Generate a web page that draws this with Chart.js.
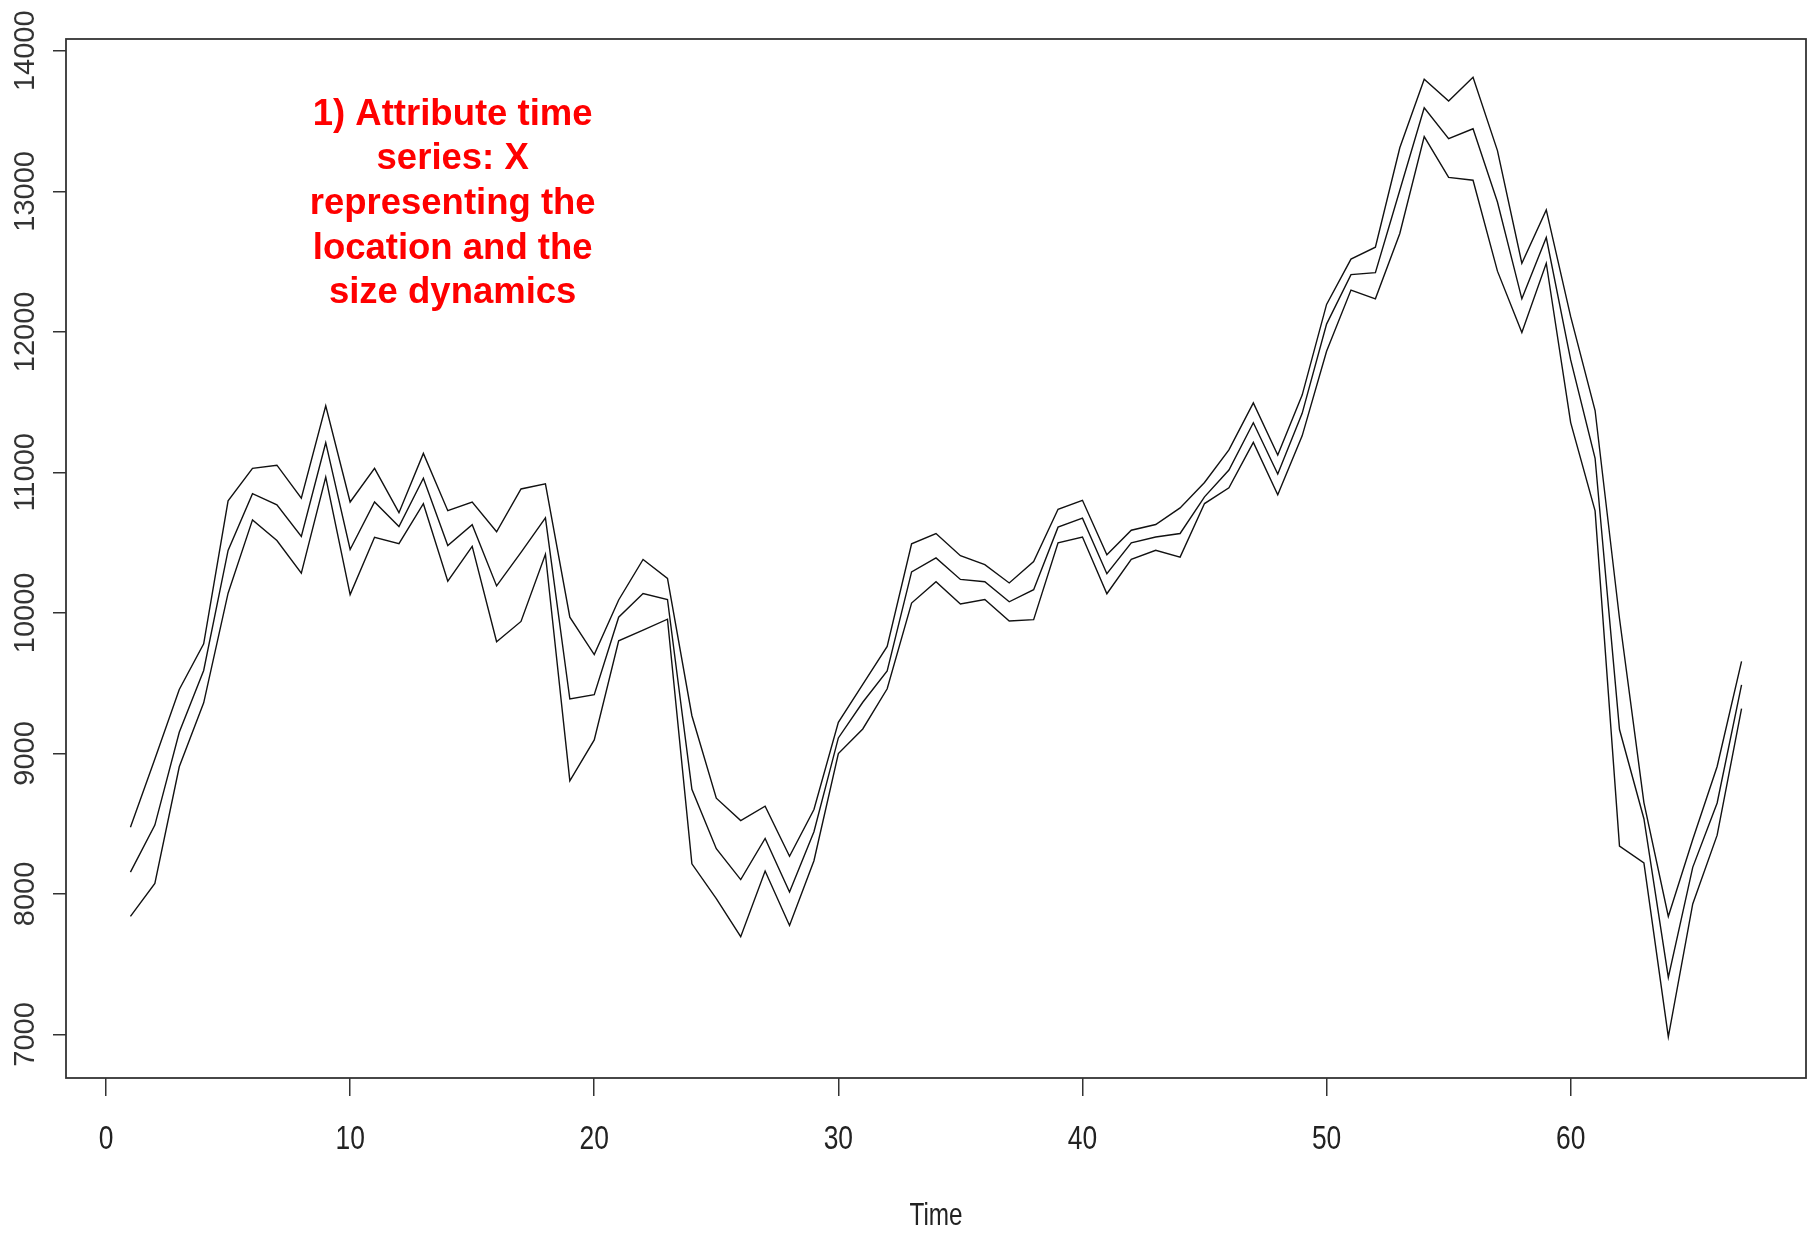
<!DOCTYPE html>
<html>
<head>
<meta charset="utf-8">
<script src="https://cdn.jsdelivr.net/npm/chart.js@4.4.1/dist/chart.umd.min.js"></script>
<style>
  html, body { margin: 0; padding: 0; background: #ffffff; }
  #wrap { width: 1808px; height: 1233px; }
</style>
</head>
<body>
<div id="wrap"><canvas id="c" width="1808" height="1233"></canvas></div>
<script>
// ---- data ----
const time = [1,2,3,4,5,6,7,8,9,10,11,12,13,14,15,16,17,18,19,20,21,22,23,24,25,26,27,28,29,30,31,32,33,34,35,36,37,38,39,40,41,42,43,44,45,46,47,48,49,50,51,52,53,54,55,56,57,58,59,60,61,62,63,64,65,66,67];
const upper = [8475,8960,9455,9780,10797,11028,11051,10817,11473,10789,11028,10713,11135,10727,10789,10577,10882,10918,9969,9703,10092,10380,10245,9268,8681,8522,8624,8268,8601,9221,9491,9761,10492,10565,10407,10343,10213,10365,10737,10801,10413,10588,10629,10747,10928,11160,11494,11123,11550,12195,12518,12602,13310,13797,13642,13811,13290,12488,12868,12108,11440,9960,8650,7840,8387,8907,9655];
const middle = [8155,8490,9150,9590,10445,10848,10769,10544,11211,10451,10789,10614,10958,10479,10628,10192,10431,10676,9387,9418,9969,10138,10095,8744,8322,8102,8395,8014,8443,9110,9364,9587,10292,10391,10238,10222,10079,10165,10610,10674,10279,10499,10540,10565,10826,11017,11353,10988,11420,12055,12407,12421,13008,13594,13375,13445,12924,12235,12671,11800,11100,9170,8535,7406,8189,8647,9487];
const lower = [7840,8075,8905,9360,10140,10662,10515,10282,10966,10130,10538,10493,10777,10225,10473,9795,9939,10417,8805,9096,9801,9877,9955,8214,7966,7696,8163,7775,8236,8999,9174,9460,10070,10222,10063,10095,9942,9952,10499,10540,10136,10381,10445,10397,10778,10890,11213,10841,11260,11862,12297,12235,12700,13389,13099,13079,12432,11995,12488,11354,10726,8340,8220,6982,7929,8418,9319];
const xTicks = [0,10,20,30,40,50,60];
const yTicks = [7000,8000,9000,10000,11000,12000,13000,14000];
const xLabel = 'Time';
const noteLines = ['1) Attribute time', 'series: X', 'representing the', 'location and the', 'size dynamics'];

// ---- helpers ----
const toXY = arr => arr.map((v, i) => ({x: time[i], y: v}));
const lineStyle = {
  borderColor: '#111111',
  borderWidth: 1.4,
  pointRadius: 0,
  pointHoverRadius: 0,
  fill: false,
  tension: 0
};

const regular = "'Liberation Sans', Arial, sans-serif";

const boxPlugin = {
  id: 'box',
  afterDraw(chart) {
    const {ctx, chartArea: a} = chart;
    ctx.save();
    ctx.strokeStyle = '#333333';
    ctx.lineWidth = 1.8;
    ctx.strokeRect(a.left, a.top, a.right - a.left, a.bottom - a.top);
    ctx.restore();
  }
};

// axis labels drawn as canvas text, positioned by the scales
const axisTextPlugin = {
  id: 'axisText',
  afterDraw(chart) {
    const {ctx} = chart;
    const y = chart.scales.y, x = chart.scales.x;
    ctx.save();
    // y tick labels, rotated like R (las = 0)
    ctx.font = '29px ' + regular;
    ctx.fillStyle = '#333333';
    ctx.textAlign = 'center';
    ctx.textBaseline = 'middle';
    y.ticks.forEach(t => {
      const py = y.getPixelForValue(t.value);
      ctx.save();
      ctx.translate(y.right - 40, py);
      ctx.rotate(-Math.PI / 2);
      ctx.fillText(String(t.value), 0, 0);
      ctx.restore();
    });
    // x tick labels, condensed
    ctx.font = '33px ' + regular;
    ctx.fillStyle = '#222222';
    x.ticks.forEach(t => {
      const px = x.getPixelForValue(t.value);
      ctx.save();
      ctx.translate(px, x.top + 62);
      ctx.scale(0.8, 1);
      ctx.fillText(String(t.value), 0, 0);
      ctx.restore();
    });
    // x axis title
    ctx.font = '32px ' + regular;
    ctx.save();
    ctx.translate((x.left + x.right) / 2, x.top + 138);
    ctx.scale(0.76, 1);
    ctx.fillText(xLabel, 0, 0);
    ctx.restore();
    ctx.restore();
  }
};

const notePlugin = {
  id: 'note',
  afterDraw(chart) {
    const {ctx} = chart;
    const xs = chart.scales.x, ys = chart.scales.y;
    const cx = xs.getPixelForValue(14.2);
    const cy = ys.getPixelForValue(13547);
    ctx.save();
    ctx.font = 'bold 36.5px ' + regular;
    ctx.fillStyle = '#ff0000';
    ctx.textAlign = 'center';
    ctx.textBaseline = 'middle';
    noteLines.forEach((s, i) => ctx.fillText(s, cx, cy + i * 44.7));
    ctx.restore();
  }
};

new Chart(document.getElementById('c'), {
  type: 'line',
  data: {
    datasets: [
      Object.assign({label: 'upper', data: toXY(upper)}, lineStyle),
      Object.assign({label: 'middle', data: toXY(middle)}, lineStyle),
      Object.assign({label: 'lower', data: toXY(lower)}, lineStyle)
    ]
  },
  options: {
    responsive: false,
    animation: false,
    devicePixelRatio: 1,
    layout: { padding: { top: 39, right: 2, left: 0, bottom: 0 } },
    plugins: { legend: { display: false }, tooltip: { enabled: false } },
    scales: {
      x: {
        type: 'linear',
        min: -1.64,
        max: 69.64,
        afterBuildTicks: s => { s.ticks = xTicks.map(v => ({value: v})); },
        afterFit: s => { s.height = 155; },
        border: { display: false },
        grid: { display: true, drawOnChartArea: false, drawTicks: true, tickLength: 18, color: '#333333', lineWidth: 1.5 },
        ticks: { display: false },
        title: { display: false }
      },
      y: {
        type: 'linear',
        min: 6690,
        max: 14084,
        afterBuildTicks: s => { s.ticks = yTicks.map(v => ({value: v})); },
        afterFit: s => { s.width = 66; },
        border: { display: false },
        grid: { display: true, drawOnChartArea: false, drawTicks: true, tickLength: 13, color: '#333333', lineWidth: 1.5 },
        ticks: { display: false }
      }
    }
  },
  plugins: [boxPlugin, axisTextPlugin, notePlugin]
});
</script>
</body>
</html>
